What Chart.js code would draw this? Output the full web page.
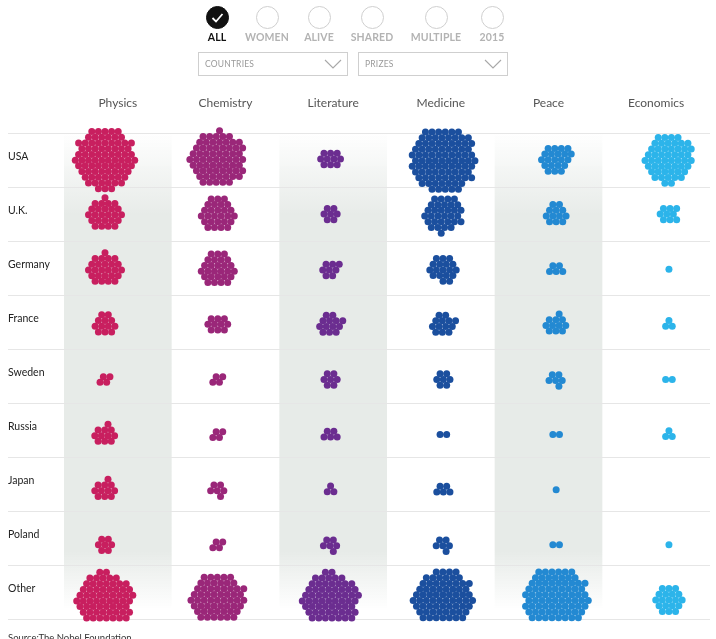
<!DOCTYPE html>
<html><head><meta charset="utf-8">
<script src="https://cdn.jsdelivr.net/npm/chart.js@4.4.1/dist/chart.umd.min.js"></script>
<style>
html,body{margin:0;padding:0;background:#fff;width:716px;height:639px;overflow:hidden;font-family:Lato,'Open Sans',sans-serif;}
#chart{position:absolute;left:0;top:0;}
.opt{position:absolute;top:6px;width:70px;margin-left:-35px;text-align:center;}
.opt .c{width:23px;height:23px;border:1.3px solid #cfcfcf;border-radius:50%;margin:0 auto;box-sizing:border-box;background:#fff;position:relative;}
.opt.on .c{background:#111;border-color:#111;}
.opt .l{font-size:10.5px;font-weight:bold;color:#b3b3b3;margin-top:2px;letter-spacing:0.1px;line-height:12px;}
.opt.on .l{color:#111;}
.dd{position:absolute;top:52px;height:24px;width:150px;border:1px solid #cfcfcf;box-sizing:border-box;font-size:8.5px;color:#9a9a9a;padding-left:6px;line-height:23px;letter-spacing:0.2px;}
.dd svg{position:absolute;right:5px;top:6px;}
#src{position:absolute;left:8px;top:632px;font-size:9.5px;color:#333;}
</style>
</head><body>
<canvas id="chart" width="716" height="639"></canvas>
<div class="opt on" style="left:217px"><div class="c"><svg width="21" height="21" viewBox="0 0 21 21" style="position:absolute;left:0;top:0"><polyline points="5.5,11 9,14.5 15.5,7" fill="none" stroke="#fff" stroke-width="1.8"/></svg></div><div class="l">ALL</div></div>
<div class="opt" style="left:267px"><div class="c"></div><div class="l">WOMEN</div></div>
<div class="opt" style="left:319px"><div class="c"></div><div class="l">ALIVE</div></div>
<div class="opt" style="left:372px"><div class="c"></div><div class="l">SHARED</div></div>
<div class="opt" style="left:436px"><div class="c"></div><div class="l">MULTIPLE</div></div>
<div class="opt" style="left:492px"><div class="c"></div><div class="l">2015</div></div>
<div class="dd" style="left:198px">COUNTRIES<svg width="18" height="10" viewBox="0 0 18 10"><polyline points="1,1 9,9 17,1" fill="none" stroke="#a8a8a8" stroke-width="1.1"/></svg></div>
<div class="dd" style="left:358px">PRIZES<svg width="18" height="10" viewBox="0 0 18 10"><polyline points="1,1 9,9 17,1" fill="none" stroke="#a8a8a8" stroke-width="1.1"/></svg></div>
<div id="src">Source:The Nobel Foundation</div>
<script>
const prizes = ['Physics', 'Chemistry', 'Literature', 'Medicine', 'Peace', 'Economics'];
const countries = ['USA', 'U.K.', 'Germany', 'France', 'Sweden', 'Russia', 'Japan', 'Poland', 'Other'];
// laureate counts per country (same order as countries)
const physics    = [80, 25, 25, 12, 4, 11, 11, 7, 68];
const chemistry  = [66, 27, 27, 10, 4, 4, 6, 4, 62];
const literature = [10, 7, 8, 13, 7, 5, 3, 6, 68];
const medicine   = [95, 32, 18, 13, 7, 2, 5, 6, 78];
const peace      = [21, 12, 5, 11, 6, 2, 1, 2, 90];
const economics  = [52, 9, 1, 3, 2, 3, 0, 1, 19];
const series = [physics, chemistry, literature, medicine, peace, economics];
const colors = ['#c81f5f', '#9a2779', '#6b2d90', '#1b4f9e', '#2389d2', '#2cb4ea'];

const DOT_SPACING = 6.6, DOT_R = 3.5;
// hexagonal lattice candidates
const lattice = [];
for (let j = -16; j <= 16; j++) for (let i = -16; i <= 16; i++) {
  const x = (i + j / 2) * DOT_SPACING, y = j * DOT_SPACING * Math.sqrt(3) / 2;
  if (Math.hypot(x, y) < 60) lattice.push({x, y, used: false});
}

// greedy compact growth: each new dot is the free lattice site nearest the cluster centroid
function clusterOffsets(n) {
  lattice.forEach(p => p.used = false);
  const pts = [];
  let cx = 0, cy = 0;
  for (let k = 0; k < n; k++) {
    let best = null, bd = Infinity;
    for (const p of lattice) {
      if (p.used) continue;
      const d = Math.hypot(p.x - cx, p.y - cy) + 0.001 * Math.abs(Math.atan2(p.y, p.x + 0.01));
      if (d < bd - 1e-6) { bd = d; best = p; }
    }
    best.used = true; pts.push(best);
    cx = pts.reduce((s, p) => s + p.x, 0) / pts.length;
    cy = pts.reduce((s, p) => s + p.y, 0) / pts.length;
  }
  return pts.map(p => ({x: p.x - cx, y: p.y - cy}));
}

const bandPlugin = {
  id: 'bands',
  beforeDraw(chart) {
    const {ctx, chartArea} = chart;
    const s = chart.scales.xTop;
    const top = chartArea.top, bottom = chartArea.bottom;
    const g = ctx.createLinearGradient(0, top, 0, bottom);
    g.addColorStop(0, 'rgba(231,235,232,0)');
    g.addColorStop(0.04, 'rgba(231,235,232,0.25)');
    g.addColorStop(0.17, 'rgba(231,235,232,1)');
    g.addColorStop(0.86, 'rgba(231,235,232,1)');
    g.addColorStop(0.98, 'rgba(231,235,232,0)');
    ctx.save();
    ctx.fillStyle = g;
    [0, 2, 4].forEach(i => {
      const l = s.getPixelForValue(i - 0.5), r = s.getPixelForValue(i + 0.5);
      ctx.fillRect(l, top, r - l, bottom - top);
    });
    ctx.restore();
  }
};

const chart = new Chart(document.getElementById('chart'), {
  type: 'scatter',
  data: {
    datasets: prizes.map((p, k) => ({
      label: p, data: [], backgroundColor: colors[k], borderWidth: 0,
      pointRadius: DOT_R, pointHoverRadius: DOT_R, clip: false, xAxisID: 'x', yAxisID: 'y'
    }))
  },
  options: {
    responsive: false, animation: false, events: [], devicePixelRatio: 1,
    layout: {padding: {left: 8, right: 6, top: 0, bottom: 20}},
    plugins: {legend: {display: false}, tooltip: {enabled: false}},
    scales: {
      x: {type: 'linear', min: -0.3635, max: 5.364, display: false},
      y: {type: 'linear', min: -0.4717, max: 8.345, reverse: true, display: false},
      xTop: {
        type: 'category', labels: prizes, position: 'top', offset: true,
        grid: {display: false, drawTicks: false}, border: {display: false},
        ticks: {padding: 23, color: '#555', font: {family: 'Lato', size: 12}, maxRotation: 0},
        afterFit(s) { s.height = 133; }
      },
      yLeft: {
        type: 'category', labels: countries, position: 'left', offset: true,
        grid: {offset: true, color: '#e6e6e6', lineWidth: 1, drawTicks: true, tickLength: 56, tickColor: '#e6e6e6'},
        border: {display: false},
        ticks: {crossAlign: 'far', padding: 0, labelOffset: -3, color: '#222', font: {family: 'Lato', size: 10.5}},
        afterFit(s) { s.width = 56; }
      }
    }
  },
  plugins: [bandPlugin]
});

// place the dots using the library's own scales
const sx = chart.scales.x, sy = chart.scales.y;
const ppx = sx.getPixelForValue(1) - sx.getPixelForValue(0);
const ppy = sy.getPixelForValue(1) - sy.getPixelForValue(0);
series.forEach((vals, k) => {
  const pts = [];
  vals.forEach((n, c) => {
    clusterOffsets(n).forEach(o => pts.push({x: k + o.x / ppx, y: c + o.y / ppy}));
  });
  chart.data.datasets[k].data = pts;
});
chart.update('none');
</script>
</body></html>
